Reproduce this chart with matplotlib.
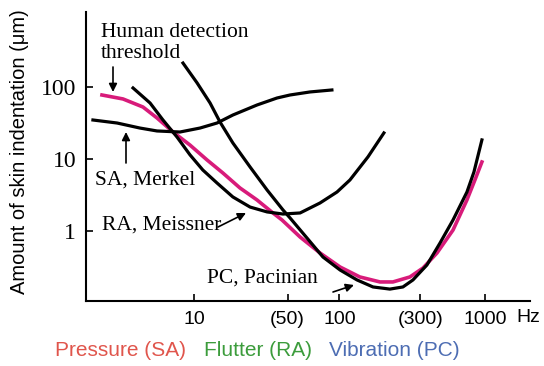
import numpy as np
import matplotlib
matplotlib.use('Agg')
import matplotlib.pyplot as plt

# Frequency (Hz) and skin indentation (um)
thr_f = [2.33, 3.25, 4.46, 5.57, 7.18, 9.39, 12.3, 15.8, 20.7, 27.1, 34.9, 40.3, 53.6, 73.5, 101,
         138, 190, 233, 305, 375, 468, 603, 752, 853, 953]
thr_a = [77.4, 68.2, 52.7, 37.1, 23.7, 15.6, 9.69, 6.39, 3.96, 2.70, 1.78, 1.42, 0.825, 0.495, 0.316,
         0.230, 0.196, 0.196, 0.230, 0.306, 0.495, 1.03, 2.70, 5.11, 9.09]

sa_f = [2.02, 2.96, 4.25, 5.57, 8.01, 11.0, 14.4, 18.5, 27.1, 37.2, 45.7, 62.7, 88.7]
sa_a = [34.8, 31.6, 26.9, 24.5, 23.7, 26.9, 31.6, 40.8, 56.2, 70.3, 77.4, 85.3, 90.9]

ra_f = [3.81, 4.99, 6.12, 7.64, 9.39, 11.5, 14.4, 18.5, 24.3, 31.8, 40.9, 53.6, 73.5, 96.2, 118, 157, 202]
ra_a = [96.9, 59.9, 34.8, 20.2, 11.4, 7.03, 4.64, 2.97, 2.15, 1.84, 1.72, 1.78, 2.45, 3.48, 5.11, 10.7, 23.0]

pc_f = [8.40, 10.5, 12.9, 15.1, 18.5, 24.3, 31.8, 40.9, 45.7, 59.8, 77.0, 101, 132, 170, 222, 273,
        320, 399, 491, 603, 752, 840, 953]
pc_a = [215, 114, 59.9, 32.6, 16.7, 7.74, 3.71, 1.96, 1.52, 0.799, 0.435, 0.287, 0.209, 0.167, 0.156, 0.167,
        0.209, 0.337, 0.681, 1.42, 3.48, 6.60, 18.4]

x_ticks = [10, 44, 100, 360, 1000]
x_labels = ['10', '(50)', '100', '(300)', '1000']
y_ticks = [1, 10, 100]
y_labels = ['1', '10', '100']

W, H = 544, 366


def px(x, y):
    # pixel position in the figure -> figure fraction
    return x / W, 1 - y / H


fig = plt.figure(figsize=(W / 100, H / 100), dpi=100)
ax = fig.add_axes([86 / W, 1 - 301 / H, 444 / W, 289 / H])
ax.set_xscale('log')
ax.set_yscale('log')
ax.set_xlim(1.81, 2040)
ax.set_ylim(0.1066, 1100)

ax.plot(thr_f, thr_a, color='#d81b7a', lw=2.6, solid_joinstyle='round')
for f, a in [(sa_f, sa_a), (ra_f, ra_a), (pc_f, pc_a)]:
    ax.plot(f, a, color='black', lw=2.3, solid_joinstyle='round')

for s in ['top', 'right']:
    ax.spines[s].set_visible(False)
for s in ['left', 'bottom']:
    ax.spines[s].set_linewidth(1.5)

ax.set_xticks(x_ticks)
ax.set_xticklabels(x_labels, fontsize=14, family='Liberation Sans')
ax.set_yticks(y_ticks)
ax.set_yticklabels(y_labels, fontsize=17, family='Liberation Serif')
ax.minorticks_off()
ax.tick_params(axis='x', direction='in', length=5, width=1.2, pad=7)
ax.tick_params(axis='y', direction='in', length=5, width=1.2, pad=7)

fig.text(*px(528, 317), 'Hz', fontsize=14, family='Liberation Sans', ha='center', va='center')
fig.text(*px(20, 152), 'Amount of skin indentation (μm)', fontsize=14.5, family='Liberation Sans',
         rotation=90, ha='center', va='center')

serif = dict(fontsize=15.5, family='Liberation Serif', va='baseline', ha='left')
fig.text(*px(101, 37), 'Human detection', **serif)
fig.text(*px(101, 58), 'threshold', **serif)
fig.text(*px(95, 185), 'SA, Merkel', **serif)
fig.text(*px(102, 230), 'RA, Meissner', **serif)
fig.text(*px(207, 283), 'PC, Pacinian', **serif)

arrow = dict(arrowstyle='-|>', color='black', lw=1.2, mutation_scale=12, shrinkA=0, shrinkB=0)
for start, end in [((113, 67), (113, 92)), ((126, 163), (126, 132)),
                   ((218, 227), (246, 213)), ((333, 292), (354, 285))]:
    fig.add_artist(matplotlib.patches.FancyArrowPatch(px(*start), px(*end),
                                                      transform=fig.transFigure, **arrow))

legend = dict(fontsize=15, family='Liberation Sans', va='center', ha='left')
fig.text(*px(55, 350), 'Pressure (SA)', color='#e0554c', **legend)
fig.text(*px(204, 350), 'Flutter (RA)', color='#3c9c3c', **legend)
fig.text(*px(329, 350), 'Vibration (PC)', color='#4d6db3', **legend)

fig.savefig('out.png', dpi=100)
